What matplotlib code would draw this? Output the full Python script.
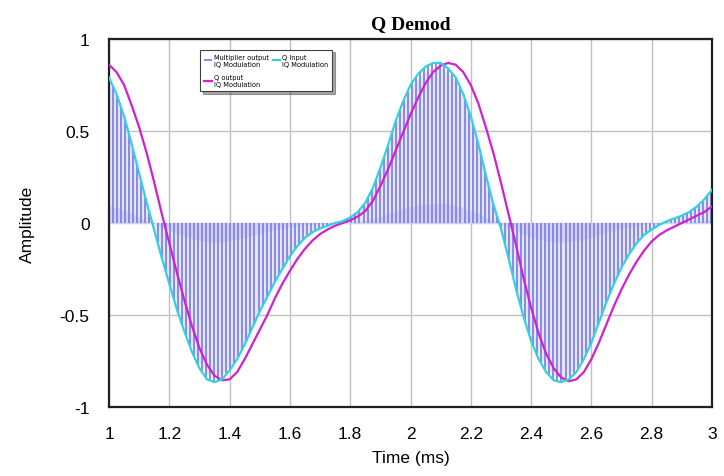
import numpy as np
import matplotlib
matplotlib.use("Agg")
import matplotlib.pyplot as plt

# values, time in ms (step 0.025)
t = np.round(np.arange(1.0, 3.0001, 0.025), 3)

q_input = [0.79, 0.70, 0.58, 0.43, 0.27, 0.11, -0.04, -0.19, -0.33, -0.47,
           -0.59, -0.70, -0.79, -0.85, -0.865, -0.85, -0.80, -0.74, -0.66, -0.57,
           -0.48, -0.40, -0.32, -0.25, -0.18, -0.125, -0.08, -0.05, -0.03, -0.015,
           0.00, 0.01, 0.03, 0.06, 0.11, 0.19, 0.30, 0.42, 0.55, 0.66,
           0.75, 0.81, 0.85, 0.87, 0.87, 0.84, 0.79, 0.70, 0.58, 0.43,
           0.26, 0.10, -0.03, -0.19, -0.36, -0.51, -0.64, -0.74, -0.81, -0.855,
           -0.865, -0.85, -0.81, -0.74, -0.65, -0.54, -0.43, -0.33, -0.24, -0.17,
           -0.11, -0.065, -0.035, -0.01, 0.01, 0.025, 0.04, 0.06, 0.09, 0.13,
           0.18]

q_output = [0.86, 0.82, 0.75, 0.64, 0.52, 0.38, 0.22, 0.05, -0.11, -0.27,
            -0.42, -0.56, -0.68, -0.77, -0.83, -0.855, -0.85, -0.81, -0.74, -0.66,
            -0.58, -0.50, -0.41, -0.33, -0.26, -0.195, -0.14, -0.095, -0.06, -0.035,
            -0.015, 0.00, 0.015, 0.035, 0.065, 0.12, 0.20, 0.29, 0.39, 0.49,
            0.59, 0.68, 0.76, 0.82, 0.855, 0.87, 0.86, 0.82, 0.75, 0.65,
            0.52, 0.38, 0.22, 0.05, -0.12, -0.30, -0.46, -0.60, -0.71, -0.79,
            -0.84, -0.86, -0.85, -0.81, -0.74, -0.65, -0.55, -0.45, -0.36, -0.28,
            -0.21, -0.15, -0.10, -0.065, -0.04, -0.02, 0.00, 0.02, 0.04, 0.06,
            0.09]

carrier_period = 0.0134  # ms, spacing of the multiplier spikes

# multiplier output = Q input x carrier^2 -> spikes from 0 up to the Q envelope
spike_t = np.arange(1.0, 3.0 + 1e-9, carrier_period)
spike_h = np.interp(spike_t, t, q_input)
t_fine = np.linspace(1.0, 3.0, 400)
q_fine = np.interp(t_fine, t, q_input)

fig = plt.figure(figsize=(7.24, 4.77), dpi=100)
ax = fig.add_axes([0.1506, 0.1447, 0.8328, 0.7714])

# light lavender between the spikes, a bit denser near zero
ax.fill_between(t_fine, 0, 0.97 * q_fine, color="#e6e6fb", lw=0, zorder=1)
ax.fill_between(t_fine, 0, 0.12 * q_fine, color="#d2d2f6", lw=0, zorder=1)
ax.vlines(spike_t, 0, spike_h, color="#8282e6", lw=1.3, zorder=2,
          label="Multiplier output\nIQ Modulation")
ax.plot(t, q_output, color="#d020d0", lw=1.6, zorder=3, label="Q output\nIQ Modulation")
ax.plot(t, q_input, color="#33d0e0", lw=1.6, zorder=4, label="Q Input\nIQ Modulation")

ax.set_xlim(1, 3)
ax.set_ylim(-1, 1)
ax.set_xticks(np.arange(1, 3.01, 0.2))
ax.set_xticklabels(["1", "1.2", "1.4", "1.6", "1.8", "2", "2.2", "2.4", "2.6", "2.8", "3"])
ax.set_yticks([-1, -0.5, 0, 0.5, 1])
ax.set_yticklabels(["-1", "-0.5", "0", "0.5", "1"])
ax.grid(True, color="#c0c0c0", lw=1.0, zorder=0)
ax.set_axisbelow(True)
ax.tick_params(length=0, labelsize=12.5, pad=14)
for lbl in ax.get_xticklabels() + ax.get_yticklabels():
    lbl.set_fontfamily("Liberation Sans")
for s in ax.spines.values():
    s.set_linewidth(1.6)
    s.set_color("#202020")

ax.set_xlabel("Time (ms)", fontsize=12.5, family="Liberation Sans", labelpad=6)
ax.set_ylabel("Amplitude", fontsize=12.5, family="Liberation Sans", labelpad=18)
ax.set_title("Q Demod", fontsize=14, family="Liberation Serif", fontweight="bold", pad=8)

# legend columns fill top-down: Multiplier, Q output | Q Input
leg = ax.legend(loc="upper left", bbox_to_anchor=(0.146, 0.98), ncol=2,
                fontsize=4.8, frameon=True, fancybox=False, shadow=True,
                edgecolor="#404040", handlelength=1.1, handletextpad=0.3,
                columnspacing=0.6, borderpad=0.6, labelspacing=1.1)
leg.get_frame().set_linewidth(0.8)

fig.savefig("out.png", dpi=100)
